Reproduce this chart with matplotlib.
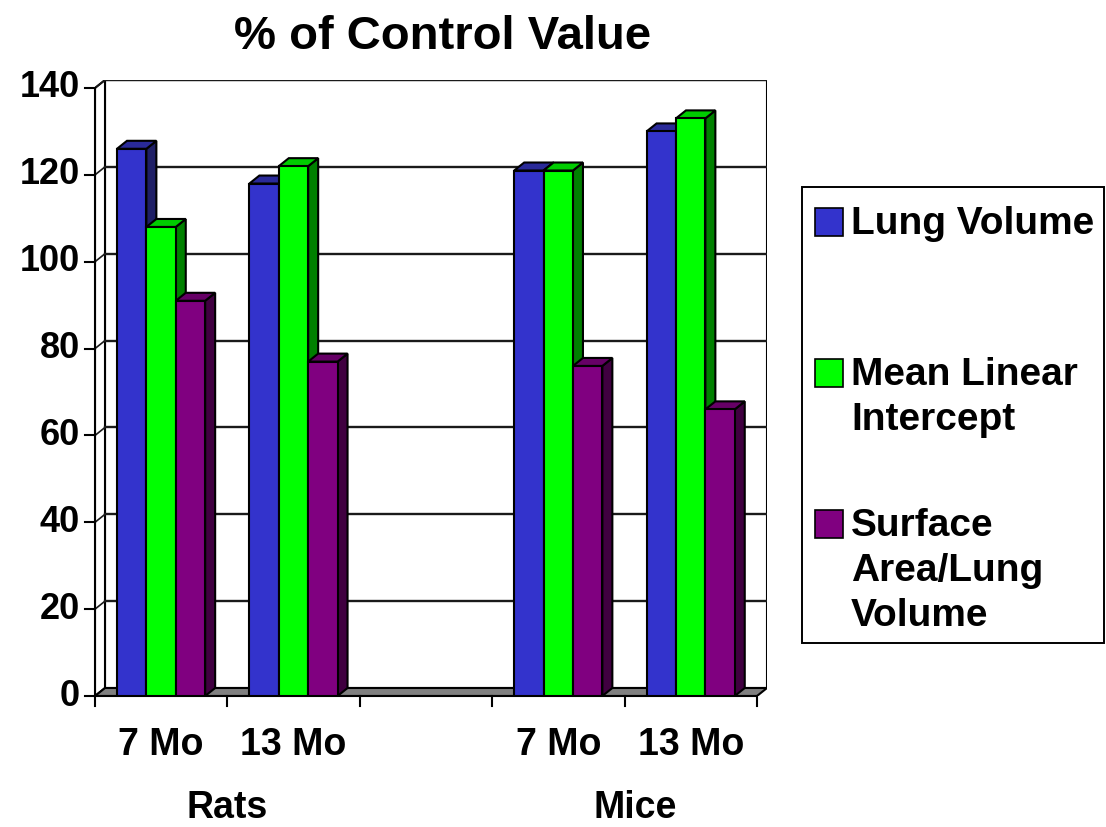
import matplotlib
matplotlib.use("Agg")
import matplotlib.pyplot as plt
from matplotlib.patches import Rectangle, Polygon
from matplotlib.transforms import offset_copy

# ---------------- data ----------------
categories = ["7 Mo", "13 Mo", "", "7 Mo", "13 Mo"]
groups = ["Rats", "Mice"]
series_names = ["Lung Volume", "Mean Linear\nIntercept", "Surface\nArea/Lung\nVolume"]
lung_volume = [126, 118, None, 121, 130]
mean_linear_intercept = [108, 122, None, 121, 133]
surface_area = [91, 77, None, 76, 66]
y_ticks = [0, 20, 40, 60, 80, 100, 120, 140]

# ---------------- style ----------------
plt.rcParams["font.family"] = ["Liberation Sans", "DejaVu Sans"]
plt.rcParams["font.weight"] = "bold"

front_cols = ["#3333CC", "#00FF00", "#800080"]
top_cols = ["#2A2A99", "#00CC00", "#660066"]
side_cols = ["#1F1F66", "#008000", "#400040"]

W, H = 1106, 827
fig = plt.figure(figsize=(W / 100, H / 100), dpi=100)
left, right, bottom, top = 95, 767, 696, 80
ax = fig.add_axes([left / W, (H - bottom) / H, (right - left) / W, (bottom - top) / H])
ax.axis("off")

n = len(categories)
ymax = y_ticks[-1]
# depth of the 3d look, 10 px right and 8 px up
dx = 10 * n / ((right - left) - 10)
dy = 8 * ymax / ((bottom - top) - 8)
ax.set_xlim(0, n + dx)
ax.set_ylim(0, ymax + dy)

lw = 1.5
# back wall and side wall
ax.add_patch(Rectangle((dx, dy), n, ymax, fc="white", ec="black", lw=lw, zorder=0))
ax.add_patch(Polygon([(0, 0), (dx, dy), (dx, ymax + dy), (0, ymax)],
                     fc="white", ec="black", lw=lw, zorder=0))
for v in y_ticks[1:]:
    ax.plot([dx, n + dx], [v + dy, v + dy], color="#1a1a1a", lw=1.7, zorder=1)
    ax.plot([0, dx], [v, v + dy], color="#1a1a1a", lw=1.2, zorder=1)

# floor
ax.add_patch(Polygon([(0, 0), (n, 0), (n + dx, dy), (dx, dy)],
                     fc="#808080", ec="black", lw=lw, zorder=1))

# front axes lines and ticks
ax.plot([0, 0], [0, ymax], color="black", lw=lw, zorder=2, clip_on=False)
ax.plot([0, n], [0, 0], color="black", lw=lw, zorder=2, clip_on=False)
tick_x = 10 * (n + dx) / (right - left)
tick_y = 10 * (ymax + dy) / (bottom - top)
for v in y_ticks:
    ax.plot([-tick_x, 0], [v, v], color="black", lw=lw, clip_on=False)
    ax.text(0, v, str(v), ha="right", va="center", fontsize=26, fontweight="bold",
            transform=offset_copy(ax.transData, fig=fig, x=-15, y=0, units="dots"))
for i in range(n + 1):
    ax.plot([i, i], [0, -tick_y], color="black", lw=lw, clip_on=False)

# bars
series = [lung_volume, mean_linear_intercept, surface_area]
bw = 0.222
start = 0.166
for i in range(n):
    for j, vals in enumerate(series):
        h = vals[i]
        if h is None:
            continue
        x0 = i + start + j * bw
        ax.add_patch(Polygon([(x0 + bw, 0), (x0 + bw + dx, dy), (x0 + bw + dx, h + dy), (x0 + bw, h)],
                             fc=side_cols[j], ec="black", lw=lw, zorder=3))
        ax.add_patch(Polygon([(x0, h), (x0 + bw, h), (x0 + bw + dx, h + dy), (x0 + dx, h + dy)],
                             fc=top_cols[j], ec="black", lw=lw, zorder=3))
        ax.add_patch(Rectangle((x0, 0), bw, h, fc=front_cols[j], ec="black", lw=lw, zorder=3))

# category and group labels
for i, c in enumerate(categories):
    ax.text(i + 0.5, 0, c, ha="center", va="center", fontsize=27, fontweight="bold",
            transform=offset_copy(ax.transData, fig=fig, x=0, y=-49, units="dots"))
for gx, g in zip([1.0, 4.08], groups):
    ax.text(gx, 0, g, ha="center", va="center", fontsize=27, fontweight="bold",
            transform=offset_copy(ax.transData, fig=fig, x=0, y=-112, units="dots"))

# title
fig.text(443 / W, 1 - 37 / H, "% of Control Value", ha="center", va="center",
         fontsize=34, fontweight="bold")

# legend drawn by hand
fig.patches.append(Rectangle((802 / W, 1 - 643 / H), (1104 - 802) / W, (643 - 187) / H,
                             transform=fig.transFigure, fc="white", ec="black", lw=1.4))
entry_y = [222, 373, 524]
for j, name in enumerate(series_names):
    yc = entry_y[j]
    fig.patches.append(Rectangle((815 / W, 1 - (yc + 14) / H), 28 / W, 28 / H,
                                 transform=fig.transFigure, fc=front_cols[j], ec="black", lw=1.2))
    fig.text(851 / W, 1 - (yc - 16) / H, name, ha="left", va="top", fontsize=28,
             fontweight="bold", linespacing=1.32)

fig.savefig("out.png", dpi=100)
